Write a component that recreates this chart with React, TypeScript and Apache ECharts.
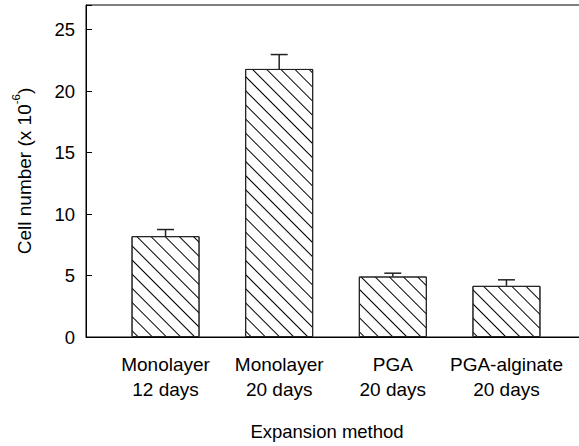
import React, { useEffect, useRef } from "react";
import * as echarts from "echarts";

const categories = ["Monolayer\n12 days", "Monolayer\n20 days", "PGA\n20 days", "PGA-alginate\n20 days"];
const positions = [1, 2, 3, 4];
const means = [8.2, 21.8, 4.92, 4.16];
const errors = [0.54, 1.17, 0.27, 0.49];
const yTicks = [0, 5, 10, 15, 20, 25];

const FONT = "'Liberation Sans', Arial, Helvetica, sans-serif";

export default function App() {
  const ref = useRef<HTMLDivElement>(null);
  useEffect(() => {
    if (!ref.current) return;
    const chart = echarts.init(ref.current, undefined, { renderer: "svg" });
    const barData = positions.map((p, i) => [p, means[i]]);
    const errData = positions.map((p, i) => [p, means[i], means[i] + errors[i]]);
    chart.setOption({
      animation: false,
      backgroundColor: "#fff",
      textStyle: { fontFamily: FONT },
      grid: {
        left: 86,
        top: 5,
        right: 14,
        bottom: 107,
        show: true,
        borderColor: "#000",
        borderWidth: 1,
        backgroundColor: "transparent",
      },
      xAxis: {
        type: "value",
        min: 0.3,
        max: 4.7,
        splitLine: { show: false },
        axisTick: { show: false },
        axisLine: { show: true, lineStyle: { color: "#000", width: 1 } },
        axisLabel: {
          customValues: positions,
          formatter: (v: number) => categories[Math.round(v) - 1] ?? "",
          color: "#000",
          fontSize: 19,
          lineHeight: 25,
          margin: 15,
          fontFamily: FONT,
        },
        name: "Expansion method",
        nameLocation: "middle",
        nameGap: 85,
        nameTextStyle: {
          color: "#000",
          fontSize: 18.5,
          fontFamily: FONT,
          padding: [0, 18, 0, 0],
        },
      },
      yAxis: {
        type: "value",
        min: 0,
        max: 27,
        interval: 5,
        splitLine: { show: false },
        axisLine: { show: true, lineStyle: { color: "#000", width: 1 } },
        axisTick: { show: true, inside: true, length: 6, lineStyle: { color: "#000" } },
        axisLabel: {
          color: "#000",
          fontSize: 18.5,
          margin: 11,
          fontFamily: FONT,
          formatter: (v: number) => (yTicks.includes(v) ? String(v) : ""),
        },
        name: "{a|Cell number (x 10}{s|-6}{a|)}",
        nameLocation: "middle",
        nameGap: 52,
        nameTextStyle: {
          color: "#000",
          fontFamily: FONT,
          rich: {
            a: { fontSize: 19, lineHeight: 24, verticalAlign: "bottom", color: "#000", fontFamily: FONT },
            s: { fontSize: 11.5, lineHeight: 24, verticalAlign: "top", color: "#000", fontFamily: FONT },
          },
        },
      },
      series: [
        {
          type: "bar",
          data: barData,
          barWidth: 68,
          itemStyle: {
            color: "#fff",
            borderColor: "#222",
            borderWidth: 1,
            decal: {
              symbol: "rect",
              symbolSize: 1,
              color: "#000",
              dashArrayX: [1, 0],
              dashArrayY: [1, 9],
              rotation: Math.PI / 4,
            },
          },
        },
        {
          type: "custom",
          data: errData,
          z: 5,
          renderItem: (params: any, api: any) => {
            const x = api.value(0);
            const p0 = api.coord([x, api.value(1)]);
            const p1 = api.coord([x, api.value(2)]);
            const half = 8.5;
            const st = { stroke: "#222", lineWidth: 1.5 };
            return {
              type: "group",
              children: [
                { type: "line", shape: { x1: p0[0], y1: p0[1], x2: p1[0], y2: p1[1] }, style: st },
                { type: "line", shape: { x1: p1[0] - half, y1: p1[1], x2: p1[0] + half, y2: p1[1] }, style: st },
              ],
            };
          },
        },
      ],
    });
    return () => chart.dispose();
  }, []);
  return (
    <div
      style={{ position: "absolute", left: 0, top: 0, width: 579, height: 446, overflow: "hidden" }}
    >
      <div ref={ref} style={{ width: 600, height: 446 }} />
    </div>
  );
}
